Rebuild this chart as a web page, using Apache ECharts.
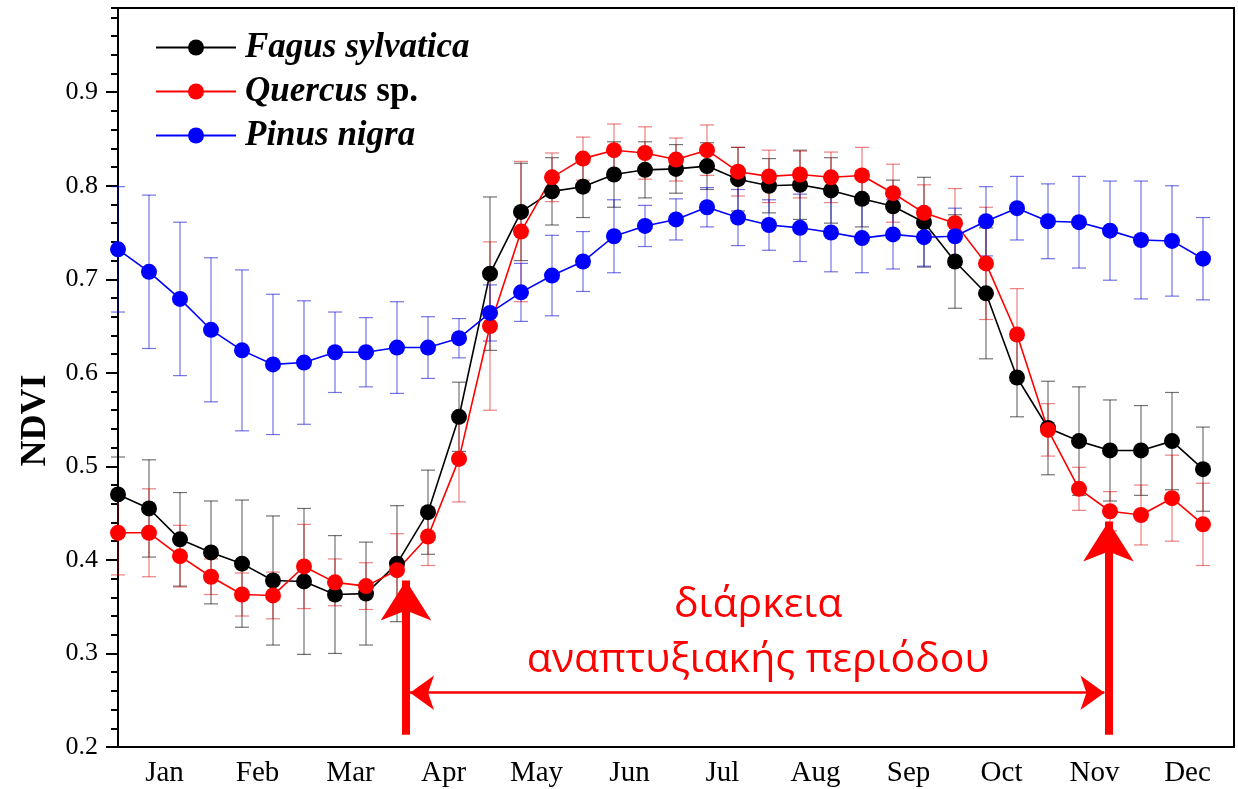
<!DOCTYPE html>
<html>
<head>
<meta charset="utf-8">
<script src="https://cdn.jsdelivr.net/npm/echarts@6/dist/echarts.min.js"></script>
<style>
  html, body { margin: 0; padding: 0; background: #fff; }
  #chart { width: 1238px; height: 789px; }
</style>
</head>
<body>
<div id="chart"></div>
<script>
// months shown on the x axis, 3 ten-day composites per month (36 points)
var months = ['Jan', 'Feb', 'Mar', 'Apr', 'May', 'Jun', 'Jul', 'Aug', 'Sep', 'Oct', 'Nov', 'Dec'];

// Fagus sylvatica: mean NDVI and error
var fagus = [0.470, 0.455, 0.422, 0.408, 0.396, 0.378, 0.377, 0.363, 0.364, 0.396, 0.451, 0.553,
             0.706, 0.772, 0.794, 0.799, 0.812, 0.817, 0.818, 0.821, 0.807, 0.800, 0.801, 0.795,
             0.786, 0.778, 0.761, 0.719, 0.685, 0.595, 0.541, 0.527, 0.517, 0.517, 0.527, 0.497];
var fagusErr = [0.040, 0.052, 0.050, 0.055, 0.068, 0.069, 0.078, 0.063, 0.055, 0.062, 0.045, 0.037,
                0.082, 0.052, 0.036, 0.033, 0.035, 0.030, 0.026, 0.025, 0.034, 0.029, 0.037, 0.035,
                0.030, 0.028, 0.048, 0.050, 0.070, 0.042, 0.050, 0.058, 0.054, 0.048, 0.052, 0.045];

// Quercus sp.
var quercus = [0.429, 0.429, 0.404, 0.382, 0.363, 0.362, 0.393, 0.376, 0.372, 0.389, 0.425, 0.508,
               0.650, 0.751, 0.809, 0.829, 0.838, 0.835, 0.828, 0.838, 0.815, 0.810, 0.812, 0.809,
               0.811, 0.792, 0.771, 0.760, 0.717, 0.641, 0.539, 0.476, 0.452, 0.448, 0.466, 0.438];
var quercusErr = [0.045, 0.047, 0.033, 0.019, 0.023, 0.025, 0.045, 0.025, 0.025, 0.039, 0.031, 0.046,
                  0.090, 0.075, 0.026, 0.023, 0.028, 0.028, 0.023, 0.027, 0.026, 0.028, 0.025, 0.027,
                  0.030, 0.031, 0.030, 0.037, 0.060, 0.049, 0.028, 0.023, 0.021, 0.032, 0.046, 0.044];

// Pinus nigra
var pinus = [0.732, 0.708, 0.679, 0.646, 0.624, 0.609, 0.611, 0.622, 0.622, 0.627, 0.627, 0.637,
             0.664, 0.686, 0.704, 0.719, 0.746, 0.757, 0.764, 0.777, 0.766, 0.758, 0.755, 0.750,
             0.744, 0.748, 0.745, 0.746, 0.762, 0.776, 0.762, 0.761, 0.752, 0.742, 0.741, 0.722];
var pinusErr = [0.067, 0.082, 0.082, 0.077, 0.086, 0.075, 0.066, 0.043, 0.037, 0.049, 0.033, 0.021,
                0.030, 0.031, 0.043, 0.032, 0.039, 0.022, 0.022, 0.021, 0.030, 0.027, 0.036, 0.042,
                0.037, 0.037, 0.031, 0.030, 0.037, 0.034, 0.040, 0.049, 0.053, 0.063, 0.059, 0.044];

// growing season annotation (x in composite index units, y in NDVI)
var seasonStart = 9.29;
var seasonEnd = 31.95;

function pairs(vals) {
    return vals.map(function (v, i) { return [i, v]; });
}
function errData(vals, errs) {
    return vals.map(function (v, i) { return [i, v - errs[i], v + errs[i]]; });
}

// error bar drawn with a custom series
function errorBars(name, vals, errs, color) {
    return {
        name: name + ' err',
        type: 'custom',
        xAxisIndex: 1,
        z: 1,
        silent: true,
        data: errData(vals, errs),
        renderItem: function (params, api) {
            var lo = api.coord([api.value(0), api.value(1)]);
            var hi = api.coord([api.value(0), api.value(2)]);
            var cap = 7;
            var style = { stroke: color, lineWidth: 1.2 };
            return {
                type: 'group',
                children: [
                    { type: 'line', shape: { x1: lo[0], y1: lo[1], x2: hi[0], y2: hi[1] }, style: style },
                    { type: 'line', shape: { x1: lo[0] - cap, y1: lo[1], x2: lo[0] + cap, y2: lo[1] }, style: style },
                    { type: 'line', shape: { x1: hi[0] - cap, y1: hi[1], x2: hi[0] + cap, y2: hi[1] }, style: style }
                ]
            };
        }
    };
}

function lineSeries(name, vals, color) {
    return {
        name: name,
        type: 'line',
        xAxisIndex: 1,
        z: 3,
        data: pairs(vals),
        symbol: 'circle',
        symbolSize: 16,
        showAllSymbol: true,
        itemStyle: { color: color },
        lineStyle: { color: color, width: 1.6 }
    };
}

var chart = echarts.init(document.getElementById('chart'));

var option = {
    animation: false,
    backgroundColor: '#fff',
    grid: {
        left: 118, top: 8, right: 4, bottom: 42,
        show: true, borderColor: '#000', borderWidth: 2
    },
    legend: {
        data: ['Fagus sylvatica', 'Quercus sp.', 'Pinus nigra'],
        orient: 'vertical',
        left: 155,
        top: 28,
        padding: 0,
        itemWidth: 80,
        itemHeight: 20,
        itemGap: 6,
        selectedMode: false,
        textStyle: {
            fontFamily: 'Liberation Serif',
            fontSize: 35,
            fontWeight: 'bold',
            color: '#000',
            rich: {
                i: { fontFamily: 'Liberation Serif', fontSize: 35, fontWeight: 'bold', fontStyle: 'italic', lineHeight: 38 },
                n: { fontFamily: 'Liberation Serif', fontSize: 35, fontWeight: 'bold', lineHeight: 38 }
            }
        },
        formatter: function (name) {
            if (name === 'Quercus sp.') return '{i|Quercus}{n| sp.}';
            return '{i|' + name + '}';
        }
    },
    xAxis: [
        {
            type: 'category',
            data: months,
            boundaryGap: true,
            axisLine: { lineStyle: { color: '#000', width: 2 } },
            axisTick: { length: 12, lineStyle: { color: '#000', width: 2 } },
            axisLabel: { fontFamily: 'Liberation Serif', fontSize: 29, color: '#000', margin: 12 },
            splitLine: { show: false }
        },
        {
            type: 'value',
            min: 0,
            max: 36,
            show: false,
            splitLine: { show: false }
        }
    ],
    yAxis: [
        {
            type: 'value',
            min: 0.2,
            max: 0.99,
            interval: 0.1,
            name: 'NDVI',
            nameLocation: 'middle',
            nameGap: 64,
            nameTextStyle: {
                fontFamily: 'Liberation Serif', fontSize: 36, fontWeight: 'bold', color: '#000',
                padding: [0, 86, 0, 0]
            },
            axisLine: { show: true, lineStyle: { color: '#000', width: 2 } },
            axisTick: { show: true, length: 12, lineStyle: { color: '#000', width: 2 } },
            axisLabel: {
                fontFamily: 'Liberation Serif', fontSize: 26, color: '#000', margin: 20,
                showMaxLabel: false,
                formatter: function (v) { return v.toFixed(1); }
            },
            splitLine: { show: false }
        },
        {
            // minor ticks every 0.02
            type: 'value',
            min: 0.2,
            max: 0.99,
            interval: 0.02,
            position: 'left',
            axisLine: { show: false },
            axisTick: { show: true, length: 7, lineStyle: { color: '#000', width: 2 } },
            axisLabel: { show: false },
            splitLine: { show: false }
        }
    ],
    series: [
        errorBars('Fagus sylvatica', fagus, fagusErr, 'rgba(0,0,0,0.55)'),
        errorBars('Quercus sp.', quercus, quercusErr, 'rgba(220,0,0,0.5)'),
        errorBars('Pinus nigra', pinus, pinusErr, 'rgba(0,0,210,0.55)'),
        lineSeries('Fagus sylvatica', fagus, '#000000'),
        lineSeries('Quercus sp.', quercus, '#ff0000'),
        lineSeries('Pinus nigra', pinus, '#0000ff'),
        {
            name: 'arrows',
            type: 'line',
            xAxisIndex: 1,
            data: [],
            markLine: {
                silent: true,
                symbol: ['none', 'arrow'],
                symbolSize: [38, 40],
                lineStyle: { color: '#ff0000', width: 8, type: 'solid' },
                label: { show: false },
                data: [
                    [{ coord: [seasonStart, 0.213] }, { coord: [seasonStart, 0.378] }],
                    [{ coord: [seasonEnd, 0.213] }, { coord: [seasonEnd, 0.441] }]
                ]
            }
        },
        {
            name: 'span',
            type: 'line',
            xAxisIndex: 1,
            data: [],
            markLine: {
                silent: true,
                symbol: ['arrow', 'arrow'],
                symbolSize: [26, 24],
                lineStyle: { color: '#ff0000', width: 2.5, type: 'solid' },
                label: { show: false },
                data: [
                    [{ coord: [seasonStart + 0.13, 0.258] }, { coord: [seasonEnd - 0.13, 0.258] }]
                ]
            },
            markPoint: {
                silent: true,
                symbol: 'circle',
                symbolSize: 1,
                itemStyle: { color: 'rgba(0,0,0,0)' },
                label: {
                    show: true,
                    position: 'inside',
                    color: '#ff0000',
                    fontFamily: 'Open Sans',
                    fontSize: 41,
                    lineHeight: 55,
                    align: 'center',
                    formatter: 'διάρκεια\nαναπτυξιακής περιόδου'
                },
                data: [{ coord: [20.65, 0.322] }]
            }
        }
    ]
};

// legend rows a little further apart and text a bit off the icon
option.legend.top = 30;
option.legend.itemGap = 9;
option.legend.textStyle.rich.i.padding = [0, 0, 0, 4];
option.legend.textStyle.rich.n.padding = [0, 0, 0, 0];

chart.setOption(option);
</script>
</body>
</html>
